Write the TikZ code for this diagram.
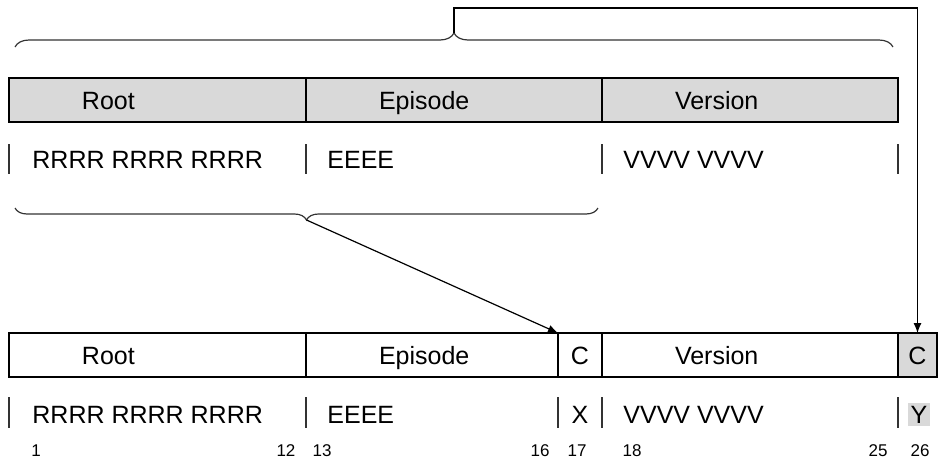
\documentclass[tikz,border=0pt]{standalone}
\usepackage{fontspec}
\setmainfont{Liberation Sans}
\usetikzlibrary{positioning, arrows.meta, decorations.pathreplacing}

\definecolor{cellgray}{HTML}{D9D9D9}
\definecolor{inkgray}{HTML}{333333}

\tikzset{
  field/.style={draw, line width=1.3pt, outer sep=0pt, inner xsep=0pt, text width=#1, align=left,
    minimum height=22pt, text height=9pt, text depth=0pt, font=\fontsize{12.5}{15}\selectfont,
    execute at begin node=\hspace*{36.5pt}},
  cbox/.style={draw, line width=1.3pt, outer sep=0pt, inner xsep=0pt, minimum width=#1,
    minimum height=22pt, text height=9pt, text depth=0pt, font=\fontsize{12.5}{15}\selectfont},
  lbl/.style={anchor=base west, inner sep=0pt, font=\fontsize{12.5}{15}\selectfont},
  num/.style={anchor=base, inner sep=0pt, font=\fontsize{8.5}{10}\selectfont},
  tick/.style={inkgray, line width=0.6pt},
  brc/.style={inkgray, line width=0.6pt, decorate},
  arr/.style={line width=0.6pt, -{Latex[length=5pt,width=4pt]}}
}

\begin{document}
\begin{tikzpicture}[x=0.5pt, y=-0.5pt]
  \useasboundingbox (0,0) rectangle (938,461);

  % upper row
  \node (rootA) [field=148.5pt, fill=cellgray, anchor=north west] at (9,78) {Root};
  \node (epiA) [field=148pt, fill=cellgray, right=0pt of rootA] {Episode};
  \node (verA) [field=148pt, fill=cellgray, right=0pt of epiA] {Version};

  \foreach \x in {9,306,602,898}
    \draw[tick] (\x,144) -- ++(0,30);
  \node (rA) [lbl] at (32,168) {RRRR RRRR RRRR};
  \node (eA) [lbl] at (327,168) {EEEE};
  \node (vA) [lbl] at (623,168) {VVVV VVVV};

  % braces
  \draw[brc, decoration={brace, amplitude=7pt}] (15,47) -- (893,47);
  \coordinate (topTip) at (454,33);
  \draw[brc, decoration={brace, amplitude=6pt, mirror}] (15,208) -- (598,208);
  \coordinate (lowTip) at (306.5,220);

  % lower row
  \node (rootB) [field=148.5pt, anchor=north west] at (9,333) {Root};
  \node (epiB) [field=126pt, right=0pt of rootB] {Episode};
  \node (cX) [cbox=22pt, right=0pt of epiB] {C};
  \node (verB) [field=148pt, right=0pt of cX] {Version};
  \node (cY) [cbox=19.5pt, fill=cellgray, right=0pt of verB] {C};

  \foreach \x in {9,306,558,602,898}
    \draw[tick] (\x,397) -- ++(0,31);
  \node (rB) [lbl] at (32,423) {RRRR RRRR RRRR};
  \node (eB) [lbl] at (327,423) {EEEE};
  \node (xB) [lbl, anchor=base] at (580,423) {X};
  \node (vB) [lbl] at (623,423) {VVVV VVVV};
  \node (yB) [lbl, anchor=base, fill=cellgray, inner sep=1.5pt] at (919,423) {Y};

  \foreach \x/\n in {36/1,286/12,322/13,540/16,577/17,632/18,878/25,920/26}
    \node [num] at (\x,456) {\n};

  % arrows
  \coordinate (lid) at (0,8);
  \draw[arr] (topTip) |- (lid -| cY.north) -- (cY.north);
  \draw[arr] (lowTip) -- (cX.north west);
\end{tikzpicture}
\end{document}
